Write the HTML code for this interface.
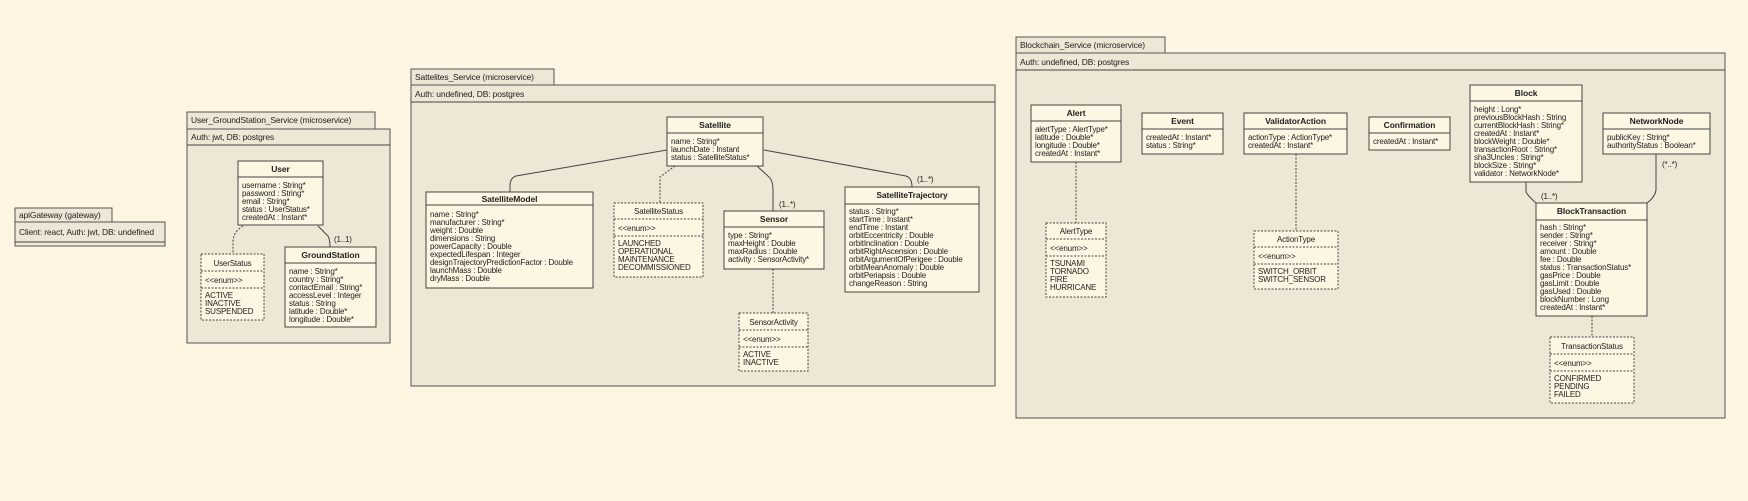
<!DOCTYPE html>
<html><head><meta charset="utf-8"><style>
html,body{margin:0;padding:0;background:#fdf5e2;width:1748px;height:501px;overflow:hidden}
svg{display:block}
text{font-family:"Liberation Sans",Arial,sans-serif;font-size:8px;fill:#222;letter-spacing:-0.15px}
.t{font-weight:bold;font-size:8.5px;letter-spacing:-0.1px}
.p{font-size:8.5px}
.pk{fill:#efe7d5;stroke:#555;stroke-width:1}
.tab{fill:#efe7d5;stroke:#555;stroke-width:1}
.c{fill:#fdf6e3;stroke:#444;stroke-width:1}
.e{fill:#fdf6e3;stroke:#444;stroke-width:1;stroke-dasharray:2,1.5}
.l{stroke:#444;stroke-width:1;fill:none}
.d{stroke:#444;stroke-width:1;fill:none;stroke-dasharray:2,1.5}
</style></head><body>
<svg width="1748" height="501" viewBox="0 0 1748 501" xmlns="http://www.w3.org/2000/svg">
<!-- apiGateway -->
<rect class="tab" x="15" y="208" width="97" height="14"/>
<text class="p" x="19" y="218">apiGateway (gateway)</text>
<rect class="pk" x="15" y="222" width="150" height="24"/>
<line class="l" x1="15" y1="242" x2="165" y2="242"/>
<text class="p" x="19" y="235">Client: react, Auth: jwt, DB: undefined</text>

<!-- User_GroundStation -->
<rect class="tab" x="187" y="112" width="188" height="17"/>
<text class="p" x="191" y="123">User_GroundStation_Service (microservice)</text>
<rect class="pk" x="187" y="129" width="203" height="214"/>
<line class="l" x1="187" y1="145" x2="390" y2="145"/>
<text class="p" x="191" y="140">Auth: jwt, DB: postgres</text>

<rect class="c" x="238" y="161" width="85" height="64"/>
<line class="l" x1="238" y1="177" x2="323" y2="177"/>
<text class="t" x="280.5" y="172" text-anchor="middle">User</text>
<text x="242" y="188">username : String*</text>
<text x="242" y="196">password : String*</text>
<text x="242" y="204">email : String*</text>
<text x="242" y="212">status : UserStatus*</text>
<text x="242" y="220">createdAt : Instant*</text>

<rect class="e" x="201" y="254" width="63" height="66"/>
<line class="d" x1="201" y1="271" x2="264" y2="271"/>
<line class="d" x1="201" y1="288" x2="264" y2="288"/>
<text x="232.5" y="266" text-anchor="middle">UserStatus</text>
<text x="205" y="283">&lt;&lt;enum&gt;&gt;</text>
<text x="205" y="298">ACTIVE</text>
<text x="205" y="306">INACTIVE</text>
<text x="205" y="314">SUSPENDED</text>

<rect class="c" x="285" y="247" width="91" height="80"/>
<line class="l" x1="285" y1="263" x2="376" y2="263"/>
<text class="t" x="330.5" y="258" text-anchor="middle">GroundStation</text>
<text x="289" y="274">name : String*</text>
<text x="289" y="282">country : String*</text>
<text x="289" y="290">contactEmail : String*</text>
<text x="289" y="298">accessLevel : Integer</text>
<text x="289" y="306">status : String</text>
<text x="289" y="314">latitude : Double*</text>
<text x="289" y="322">longitude : Double*</text>

<path class="d" d="M243,226 Q233,232 233,242 L233,254"/>
<path class="l" d="M318,226 L328,236 Q330,240 330,247"/>
<text x="334" y="242">(1..1)</text>

<!-- Sattelites_Service -->
<rect class="tab" x="411" y="69" width="143" height="16"/>
<text class="p" x="415" y="80">Sattelites_Service (microservice)</text>
<rect class="pk" x="411" y="85" width="584" height="301"/>
<line class="l" x1="411" y1="102" x2="995" y2="102"/>
<text class="p" x="415" y="97">Auth: undefined, DB: postgres</text>

<rect class="c" x="667" y="117" width="96" height="49"/>
<line class="l" x1="667" y1="133" x2="763" y2="133"/>
<text class="t" x="715" y="128" text-anchor="middle">Satellite</text>
<text x="671" y="144">name : String*</text>
<text x="671" y="152">launchDate : Instant</text>
<text x="671" y="160">status : SatelliteStatus*</text>

<rect class="c" x="426" y="192" width="167" height="96"/>
<line class="l" x1="426" y1="205" x2="593" y2="205"/>
<text class="t" x="509.5" y="202" text-anchor="middle">SatelliteModel</text>
<text x="430" y="217">name : String*</text>
<text x="430" y="225">manufacturer : String*</text>
<text x="430" y="233">weight : Double</text>
<text x="430" y="241">dimensions : String</text>
<text x="430" y="249">powerCapacity : Double</text>
<text x="430" y="257">expectedLifespan : Integer</text>
<text x="430" y="265">designTrajectoryPredictionFactor : Double</text>
<text x="430" y="273">launchMass : Double</text>
<text x="430" y="281">dryMass : Double</text>

<rect class="e" x="614" y="203" width="89" height="74"/>
<line class="d" x1="614" y1="219" x2="703" y2="219"/>
<line class="d" x1="614" y1="236" x2="703" y2="236"/>
<text x="658.5" y="214" text-anchor="middle">SatelliteStatus</text>
<text x="618" y="231">&lt;&lt;enum&gt;&gt;</text>
<text x="618" y="246">LAUNCHED</text>
<text x="618" y="254">OPERATIONAL</text>
<text x="618" y="262">MAINTENANCE</text>
<text x="618" y="270">DECOMMISSIONED</text>

<rect class="c" x="724" y="211" width="100" height="58"/>
<line class="l" x1="724" y1="227" x2="824" y2="227"/>
<text class="t" x="774" y="222" text-anchor="middle">Sensor</text>
<text x="728" y="238">type : String*</text>
<text x="728" y="246">maxHeight : Double</text>
<text x="728" y="254">maxRadius : Double</text>
<text x="728" y="262">activity : SensorActivity*</text>

<rect class="c" x="845" y="187" width="134" height="105"/>
<line class="l" x1="845" y1="204" x2="979" y2="204"/>
<text class="t" x="912" y="198" text-anchor="middle">SatelliteTrajectory</text>
<text x="849" y="214">status : String*</text>
<text x="849" y="222">startTime : Instant*</text>
<text x="849" y="230">endTime : Instant</text>
<text x="849" y="238">orbitEccentricity : Double</text>
<text x="849" y="246">orbitInclination : Double</text>
<text x="849" y="254">orbitRightAscension : Double</text>
<text x="849" y="262">orbitArgumentOfPerigee : Double</text>
<text x="849" y="270">orbitMeanAnomaly : Double</text>
<text x="849" y="278">orbitPeriapsis : Double</text>
<text x="849" y="286">changeReason : String</text>

<rect class="e" x="739" y="313" width="69" height="58"/>
<line class="d" x1="739" y1="330" x2="808" y2="330"/>
<line class="d" x1="739" y1="347" x2="808" y2="347"/>
<text x="773.5" y="325" text-anchor="middle">SensorActivity</text>
<text x="743" y="342">&lt;&lt;enum&gt;&gt;</text>
<text x="743" y="357">ACTIVE</text>
<text x="743" y="365">INACTIVE</text>

<path class="l" d="M667,150 L516,176 Q510,178 510,186 L510,192"/>
<path class="d" d="M675,166 L660,177 L660,203"/>
<path class="l" d="M757,166 L770,178 Q773,182 773,190 L773,211"/>
<text x="779" y="207">(1..*)</text>
<path class="l" d="M764,150 L906,176 Q912,178 912,187"/>
<text x="917" y="182">(1..*)</text>
<path class="d" d="M773,269 L773,313"/>

<!-- Blockchain_Service -->
<rect class="tab" x="1016" y="37" width="149" height="16"/>
<text class="p" x="1020" y="48">Blockchain_Service (microservice)</text>
<rect class="pk" x="1016" y="53" width="709" height="365"/>
<line class="l" x1="1016" y1="70" x2="1725" y2="70"/>
<text class="p" x="1020" y="65">Auth: undefined, DB: postgres</text>

<rect class="c" x="1031" y="105" width="90" height="57"/>
<line class="l" x1="1031" y1="121" x2="1121" y2="121"/>
<text class="t" x="1076" y="116" text-anchor="middle">Alert</text>
<text x="1035" y="132">alertType : AlertType*</text>
<text x="1035" y="140">latitude : Double*</text>
<text x="1035" y="148">longitude : Double*</text>
<text x="1035" y="156">createdAt : Instant*</text>

<rect class="c" x="1142" y="113" width="81" height="41"/>
<line class="l" x1="1142" y1="129" x2="1223" y2="129"/>
<text class="t" x="1182.5" y="124" text-anchor="middle">Event</text>
<text x="1146" y="140">createdAt : Instant*</text>
<text x="1146" y="148">status : String*</text>

<rect class="c" x="1244" y="113" width="103" height="41"/>
<line class="l" x1="1244" y1="129" x2="1347" y2="129"/>
<text class="t" x="1295.5" y="124" text-anchor="middle">ValidatorAction</text>
<text x="1248" y="140">actionType : ActionType*</text>
<text x="1248" y="148">createdAt : Instant*</text>

<rect class="c" x="1369" y="117" width="81" height="33"/>
<line class="l" x1="1369" y1="133" x2="1450" y2="133"/>
<text class="t" x="1409.5" y="128" text-anchor="middle">Confirmation</text>
<text x="1373" y="144">createdAt : Instant*</text>

<rect class="c" x="1470" y="85" width="112" height="97"/>
<line class="l" x1="1470" y1="101" x2="1582" y2="101"/>
<text class="t" x="1526" y="96" text-anchor="middle">Block</text>
<text x="1474" y="112">height : Long*</text>
<text x="1474" y="120">previousBlockHash : String</text>
<text x="1474" y="128">currentBlockHash : String*</text>
<text x="1474" y="136">createdAt : Instant*</text>
<text x="1474" y="144">blockWeight : Double*</text>
<text x="1474" y="152">transactionRoot : String*</text>
<text x="1474" y="160">sha3Uncles : String*</text>
<text x="1474" y="168">blockSize : String*</text>
<text x="1474" y="176">validator : NetworkNode*</text>

<rect class="c" x="1603" y="113" width="107" height="41"/>
<line class="l" x1="1603" y1="129" x2="1710" y2="129"/>
<text class="t" x="1656.5" y="124" text-anchor="middle">NetworkNode</text>
<text x="1607" y="140">publicKey : String*</text>
<text x="1607" y="148">authorityStatus : Boolean*</text>

<rect class="c" x="1536" y="203" width="111" height="113"/>
<line class="l" x1="1536" y1="220" x2="1647" y2="220"/>
<text class="t" x="1591.5" y="214" text-anchor="middle">BlockTransaction</text>
<text x="1540" y="230">hash : String*</text>
<text x="1540" y="238">sender : String*</text>
<text x="1540" y="246">receiver : String*</text>
<text x="1540" y="254">amount : Double</text>
<text x="1540" y="262">fee : Double</text>
<text x="1540" y="270">status : TransactionStatus*</text>
<text x="1540" y="278">gasPrice : Double</text>
<text x="1540" y="286">gasLimit : Double</text>
<text x="1540" y="294">gasUsed : Double</text>
<text x="1540" y="302">blockNumber : Long</text>
<text x="1540" y="310">createdAt : Instant*</text>

<rect class="e" x="1046" y="223" width="60" height="74"/>
<line class="d" x1="1046" y1="239" x2="1106" y2="239"/>
<line class="d" x1="1046" y1="256" x2="1106" y2="256"/>
<text x="1076" y="234" text-anchor="middle">AlertType</text>
<text x="1050" y="251">&lt;&lt;enum&gt;&gt;</text>
<text x="1050" y="266">TSUNAMI</text>
<text x="1050" y="274">TORNADO</text>
<text x="1050" y="282">FIRE</text>
<text x="1050" y="290">HURRICANE</text>

<rect class="e" x="1254" y="231" width="84" height="58"/>
<line class="d" x1="1254" y1="247" x2="1338" y2="247"/>
<line class="d" x1="1254" y1="264" x2="1338" y2="264"/>
<text x="1296" y="242" text-anchor="middle">ActionType</text>
<text x="1258" y="259">&lt;&lt;enum&gt;&gt;</text>
<text x="1258" y="274">SWITCH_ORBIT</text>
<text x="1258" y="282">SWITCH_SENSOR</text>

<rect class="e" x="1550" y="337" width="84" height="66"/>
<line class="d" x1="1550" y1="354" x2="1634" y2="354"/>
<line class="d" x1="1550" y1="371" x2="1634" y2="371"/>
<text x="1592" y="349" text-anchor="middle">TransactionStatus</text>
<text x="1554" y="366">&lt;&lt;enum&gt;&gt;</text>
<text x="1554" y="381">CONFIRMED</text>
<text x="1554" y="389">PENDING</text>
<text x="1554" y="397">FAILED</text>

<path class="d" d="M1076,162 L1076,223"/>
<path class="d" d="M1296,154 L1296,231"/>
<path class="l" d="M1526,182 L1526,192 Q1528,196 1536,203"/>
<text x="1541" y="199">(1..*)</text>
<path class="l" d="M1656,154 L1656,190 Q1655,197 1647,203"/>
<text x="1662" y="167">(*..*)</text>
<path class="d" d="M1592,316 L1592,337"/>
</svg>
</body></html>
